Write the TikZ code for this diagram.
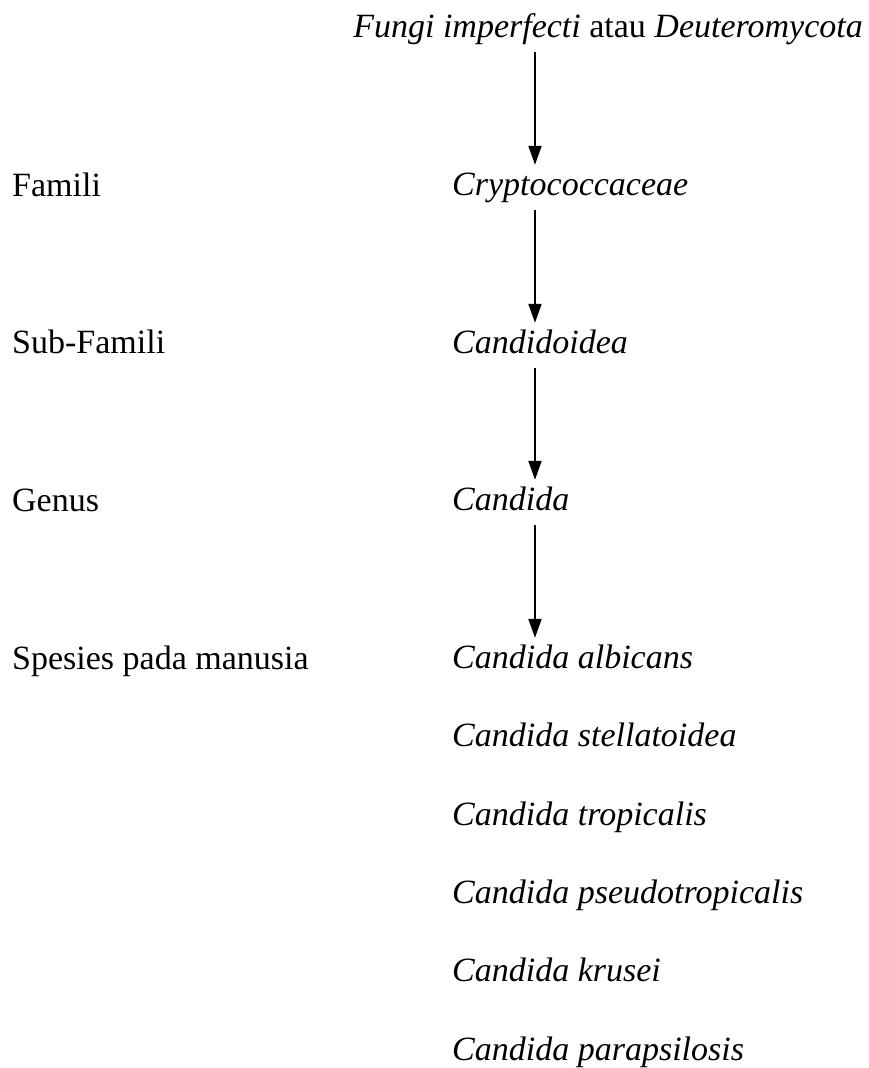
\documentclass[tikz,border=0pt]{standalone}
\usepackage{fontspec}
\setmainfont{Liberation Serif}
\usetikzlibrary{arrows.meta,positioning}

\begin{document}
\begin{tikzpicture}[
    x=1pt, y=-1pt,
    every node/.style={inner sep=0pt, text height=24pt, text depth=10pt, font=\fontsize{34}{40}\selectfont},
    rank/.style={anchor=base west},
    taxon/.style={anchor=base west, font=\fontsize{34}{40}\selectfont\itshape},
    arrow/.style={-{Triangle[length=19pt,width=13pt]}, line width=2pt, shorten <=5pt, shorten >=6pt}
]
\useasboundingbox (0,0) rectangle (869,1068);
\coordinate (spine) at (535,0);
% taxon column
\node (top) [anchor=base east] at (863,37) {\textit{Fungi imperfecti} atau \textit{Deuteromycota}};
\node (fam) [taxon] at (452,195) {Cryptococcaceae};
\node (sub) [taxon] at (452,353) {Candidoidea};
\node (gen) [taxon] at (452,510) {Candida};
\node (sp1) [taxon] at (452,668) {Candida albicans};
\node (sp2) [taxon] at (452,746) {Candida stellatoidea};
\node (sp3) [taxon] at (452,825) {Candida tropicalis};
\node (sp4) [taxon] at (452,903) {Candida pseudotropicalis};
\node (sp5) [taxon] at (452,981) {Candida krusei};
\node (sp6) [taxon] at (452,1060) {Candida parapsilosis};
% rank column
\node (lfam) [rank] at (12,196) {Famili};
\node (lsub) [rank] at (12,353) {Sub-Famili};
\node (lgen) [rank] at (12,511) {Genus};
\node (lsp) [rank] at (12,669) {Spesies pada manusia};
\draw[arrow] (top.south -| spine) -- (fam.north -| spine);
\draw[arrow] (fam.south -| spine) -- (sub.north -| spine);
\draw[arrow] (sub.south -| spine) -- (gen.north -| spine);
\draw[arrow] (gen.south -| spine) -- (sp1.north -| spine);
\end{tikzpicture}
\end{document}
